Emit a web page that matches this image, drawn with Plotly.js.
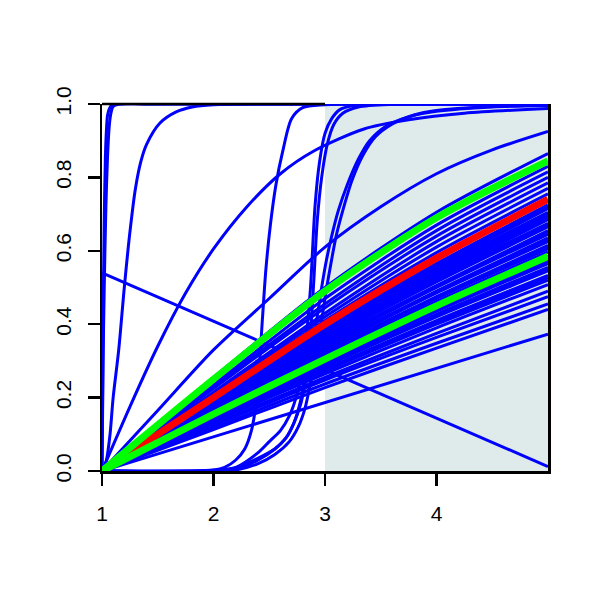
<!DOCTYPE html>
<html>
<head>
<meta charset="utf-8">
<script src="https://cdn.plot.ly/plotly-3.0.1.min.js"></script>
<style>html,body{margin:0;padding:0;background:#fff}#chart{width:600px;height:600px}</style>
</head>
<body>
<div id="chart"></div>
<script>
// ---- data ----
const xTicks = [1, 2, 3, 4];
const yTicks = [0, 0.2, 0.4, 0.6, 0.8, 1.0];
const shadeX = [3, 5];

// fan of blue curves, values at x = 1..5
const fanX = [1, 2, 3, 4, 5];
const fanLines = [
  [0, 0.255, 0.50, 0.705, 0.865],
  [0, 0.235, 0.47, 0.67, 0.83],
  [0, 0.23, 0.455, 0.655, 0.815],
  [0, 0.225, 0.445, 0.64, 0.80],
  [0, 0.215, 0.43, 0.625, 0.785],
  [0, 0.21, 0.42, 0.61, 0.77],
  [0, 0.205, 0.41, 0.595, 0.755],
  [0, 0.195, 0.39, 0.565, 0.725],
  [0, 0.193, 0.387, 0.56, 0.72],
  [0, 0.19, 0.385, 0.555, 0.715],
  [0, 0.19, 0.38, 0.55, 0.705],
  [0, 0.187, 0.375, 0.545, 0.70],
  [0, 0.185, 0.37, 0.54, 0.695],
  [0, 0.182, 0.367, 0.535, 0.69],
  [0, 0.18, 0.365, 0.53, 0.685],
  [0, 0.18, 0.36, 0.525, 0.675],
  [0, 0.177, 0.357, 0.52, 0.67],
  [0, 0.175, 0.355, 0.515, 0.665],
  [0, 0.175, 0.35, 0.505, 0.655],
  [0, 0.172, 0.345, 0.502, 0.65],
  [0, 0.17, 0.34, 0.50, 0.645],
  [0, 0.17, 0.335, 0.49, 0.635],
  [0, 0.167, 0.333, 0.487, 0.63],
  [0, 0.165, 0.33, 0.485, 0.625],
  [0, 0.165, 0.325, 0.475, 0.615],
  [0, 0.162, 0.322, 0.472, 0.61],
  [0, 0.16, 0.32, 0.47, 0.605],
  [0, 0.158, 0.315, 0.462, 0.597],
  [0, 0.155, 0.308, 0.452, 0.585],
  [0, 0.152, 0.30, 0.443, 0.575],
  [0, 0.151, 0.298, 0.44, 0.57],
  [0, 0.15, 0.295, 0.435, 0.565],
  [0, 0.147, 0.29, 0.427, 0.555],
  [0, 0.146, 0.288, 0.424, 0.55],
  [0, 0.144, 0.285, 0.42, 0.545],
  [0, 0.14, 0.278, 0.41, 0.533],
  [0, 0.138, 0.275, 0.405, 0.527],
  [0, 0.137, 0.272, 0.40, 0.52],
  [0, 0.134, 0.265, 0.39, 0.508],
  [0, 0.128, 0.255, 0.375, 0.49],
  [0, 0.124, 0.248, 0.364, 0.475],
  [0, 0.118, 0.237, 0.348, 0.455],
  [0, 0.113, 0.227, 0.335, 0.44]
];

const redY = [0, 0.20, 0.40, 0.58, 0.74];
const greenUpperY = [0, 0.25, 0.49, 0.69, 0.845];
const greenLowerY = [0, 0.155, 0.305, 0.45, 0.585];

const straightX = [1, 5];
const straightY = [0, 0.373];
const fallingX = [1, 5];
const fallingY = [0.54, 0.012];

const curveAX = [1, 1.25, 1.5, 1.75, 2.0, 2.3, 2.6, 2.9, 3.35, 3.75, 4.25, 5];
const curveAY = [0, 0.175, 0.34, 0.485, 0.605, 0.72, 0.81, 0.872, 0.932, 0.957, 0.975, 0.988];

const curveBX = [1, 1.5, 2, 2.5, 3, 3.5, 4, 4.5, 5];
const curveBY = [0, 0.165, 0.33, 0.47, 0.61, 0.72, 0.81, 0.875, 0.925];

const steep1X = [1, 1.005, 1.01, 1.02, 1.03, 1.04, 1.05, 1.07, 1.1, 1.5, 5];
const steep1Y = [0, 0.2, 0.4, 0.68, 0.85, 0.93, 0.97, 0.99, 0.999, 1, 1];
const steep2X = [1, 1.01, 1.02, 1.035, 1.05, 1.065, 1.08, 1.1, 1.15, 1.5, 5];
const steep2Y = [0, 0.3, 0.5, 0.72, 0.86, 0.94, 0.975, 0.993, 0.999, 1, 1];

const curveCX = [1, 1.012, 1.04, 1.072, 1.1, 1.15, 1.2, 1.25, 1.3, 1.35, 1.4, 1.52, 1.67, 1.81, 2.0, 2.5, 5];
const curveCY = [0, 0.003, 0.03, 0.10, 0.2, 0.33, 0.5, 0.65, 0.77, 0.845, 0.89, 0.948, 0.979, 0.992, 0.998, 1, 1];

const sigAX = [1, 2.0, 2.1, 2.2, 2.28, 2.34, 2.38, 2.41, 2.44, 2.47, 2.51, 2.56, 2.62, 2.7, 2.8, 3.0, 5];
const sigAY = [0, 0.003, 0.01, 0.03, 0.06, 0.11, 0.18, 0.28, 0.42, 0.55, 0.67, 0.78, 0.87, 0.96, 0.99, 0.998, 1];

const sigB1X = [1, 2.0, 2.2, 2.4, 2.5, 2.6, 2.68, 2.74, 2.79, 2.83, 2.87, 2.91, 2.95, 3.0, 3.06, 3.13, 3.25, 3.5, 5];
const sigB1Y = [0, 0.002, 0.01, 0.05, 0.08, 0.11, 0.15, 0.2, 0.27, 0.36, 0.5, 0.72, 0.84, 0.92, 0.96, 0.984, 0.995, 0.999, 1];
const sigB2X = [1, 2.0, 2.2, 2.4, 2.55, 2.65, 2.72, 2.78, 2.83, 2.87, 2.9, 2.93, 2.97, 3.02, 3.08, 3.16, 3.3, 3.6, 5];
const sigB2Y = [0, 0.001, 0.008, 0.035, 0.06, 0.09, 0.13, 0.19, 0.27, 0.38, 0.52, 0.68, 0.8, 0.89, 0.945, 0.975, 0.992, 0.999, 1];

const sigC1X = [1, 2.2, 2.4, 2.55, 2.65, 2.72, 2.78, 2.83, 2.88, 2.93, 2.97, 3.01, 3.06, 3.12, 3.2, 3.3, 3.4, 3.55, 3.75, 4.0, 4.5, 5];
const sigC1Y = [0, 0.005, 0.03, 0.06, 0.09, 0.13, 0.18, 0.25, 0.33, 0.42, 0.5, 0.57, 0.64, 0.71, 0.78, 0.85, 0.9, 0.94, 0.965, 0.98, 0.992, 0.996];
const sigC2X = [1, 2.2, 2.4, 2.55, 2.68, 2.76, 2.82, 2.87, 2.92, 2.97, 3.01, 3.05, 3.1, 3.16, 3.24, 3.34, 3.45, 3.6, 3.8, 4.0, 4.5, 5];
const sigC2Y = [0, 0.003, 0.02, 0.045, 0.08, 0.12, 0.17, 0.24, 0.32, 0.41, 0.49, 0.56, 0.64, 0.71, 0.79, 0.86, 0.91, 0.945, 0.97, 0.982, 0.993, 0.997];

// ---- build traces ----
const BLUE = '#0000ff', RED = '#ff0000', GREEN = '#00ff00';
const BW = 3, TW = 7;
const traces = [];
function add(x, y, color, width, shape) {
  traces.push({
    x: x, y: y, type: 'scatter', mode: 'lines',
    line: {color: color, width: width, shape: shape || 'linear', smoothing: 0.8},
    hoverinfo: 'skip', showlegend: false
  });
}
fanLines.forEach(function (ys) { add(fanX, ys, BLUE, BW, 'spline'); });
add(straightX, straightY, BLUE, BW);
add(fallingX, fallingY, BLUE, BW);
add(curveAX, curveAY, BLUE, BW, 'spline');
add(curveBX, curveBY, BLUE, BW, 'spline');
add(steep1X, steep1Y, BLUE, BW, 'spline');
add(steep2X, steep2Y, BLUE, BW, 'spline');
add(curveCX, curveCY, BLUE, BW, 'spline');
add(sigAX, sigAY, BLUE, BW, 'spline');
add(sigB1X, sigB1Y, BLUE, BW, 'spline');
add(sigB2X, sigB2Y, BLUE, BW, 'spline');
add(sigC1X, sigC1Y, BLUE, BW, 'spline');
add(sigC2X, sigC2Y, BLUE, BW, 'spline');
add(fanX, redY, RED, TW, 'spline');
add(fanX, greenUpperY, GREEN, TW, 'spline');
add(fanX, greenLowerY, GREEN, TW, 'spline');

const FONT = {family: 'Liberation Sans, Arial, sans-serif', size: 21, color: '#000'};
const layout = {
  width: 600, height: 600,
  margin: {l: 102, r: 52, t: 104, b: 129, pad: 0},
  paper_bgcolor: '#fff', plot_bgcolor: '#fff',
  showlegend: false,
  font: FONT,
  xaxis: {
    range: [1, 5], tickvals: xTicks, ticktext: xTicks.map(String),
    showgrid: false, zeroline: false,
    showline: true, linecolor: '#000', linewidth: 2.5, mirror: false,
    ticks: 'outside', ticklen: 12, tickwidth: 2.5, tickcolor: '#000',
    ticklabelstandoff: 10, tickfont: FONT
  },
  yaxis: {
    range: [0, 1], tickvals: yTicks, ticktext: yTicks.map(function (v) { return v.toFixed(1); }),
    showgrid: false, zeroline: false,
    showline: true, linecolor: '#000', linewidth: 2.5, mirror: true,
    ticks: 'outside', ticklen: 12, tickwidth: 2.5, tickcolor: '#000',
    tickangle: -90, ticklabelstandoff: 8, tickfont: FONT
  },
  shapes: [
    {type: 'rect', xref: 'x', yref: 'y', x0: shadeX[0], x1: shadeX[1], y0: 0, y1: 1,
     fillcolor: '#dfebeb', line: {width: 0}, layer: 'below'},
    {type: 'line', xref: 'x', yref: 'paper', x0: 1, x1: shadeX[0], y0: 1, y1: 1,
     line: {color: '#000', width: 2.5}, layer: 'above'}
  ]
};
Plotly.newPlot('chart', traces, layout, {staticPlot: true, displayModeBar: false});
</script>
</body>
</html>
